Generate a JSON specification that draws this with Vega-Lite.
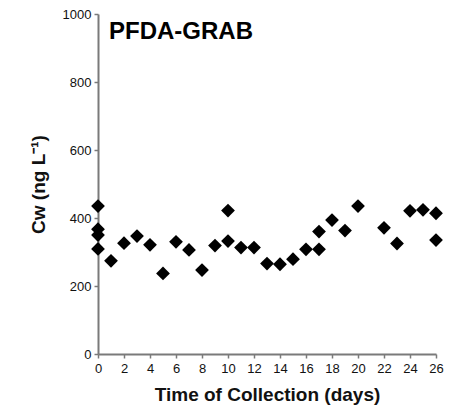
{
  "$schema": "https://vega.github.io/schema/vega-lite/v6.json",
  "width": 338,
  "height": 340,
  "autosize": "none",
  "padding": {"left": 98, "top": 14, "right": 23, "bottom": 55},
  "background": "white",
  "title": {
    "text": "PFDA-GRAB",
    "anchor": "start",
    "frame": "group",
    "orient": "top",
    "baseline": "alphabetic",
    "offset": -23,
    "dy": 32,
    "dx": 11,
    "fontSize": 24,
    "font": "Liberation Sans",
    "fontWeight": "bold",
    "color": "#000000"
  },
  "config": {
    "view": {"stroke": null},
    "axis": {
      "grid": false,
      "domainColor": "#7a7a7a",
      "domainWidth": 2,
      "tickColor": "#7a7a7a",
      "tickWidth": 1.5,
      "tickSize": 4,
      "labelFont": "Liberation Sans",
      "labelFontSize": 13,
      "labelColor": "#111111",
      "titleFont": "Liberation Sans",
      "titleFontWeight": "bold",
      "titleColor": "#111111"
    }
  },
  "data": {
    "values": [
      {"day": 0, "cw": 435},
      {"day": 0, "cw": 367},
      {"day": 0, "cw": 350},
      {"day": 0, "cw": 309},
      {"day": 1, "cw": 274},
      {"day": 2, "cw": 326},
      {"day": 3, "cw": 347},
      {"day": 4, "cw": 321},
      {"day": 5, "cw": 237},
      {"day": 6, "cw": 330},
      {"day": 7, "cw": 306},
      {"day": 8, "cw": 247},
      {"day": 9, "cw": 319},
      {"day": 10, "cw": 422},
      {"day": 10, "cw": 332},
      {"day": 11, "cw": 313},
      {"day": 12, "cw": 313},
      {"day": 13, "cw": 266},
      {"day": 14, "cw": 264},
      {"day": 15, "cw": 279},
      {"day": 16, "cw": 308},
      {"day": 17, "cw": 308},
      {"day": 17, "cw": 360},
      {"day": 18, "cw": 394},
      {"day": 19, "cw": 363},
      {"day": 20, "cw": 435},
      {"day": 22, "cw": 371},
      {"day": 23, "cw": 325},
      {"day": 24, "cw": 421},
      {"day": 25, "cw": 424},
      {"day": 26, "cw": 414},
      {"day": 26, "cw": 335}
    ]
  },
  "mark": {"type": "point", "shape": "diamond", "filled": true, "color": "#000000", "opacity": 1, "size": 190, "clip": false},
  "encoding": {
    "x": {
      "field": "day",
      "type": "quantitative",
      "scale": {"domain": [0, 26], "nice": false, "zero": true},
      "axis": {
        "title": "Time of Collection (days)",
        "titleFontSize": 19,
        "titlePadding": 10,
        "labelPadding": 4,
        "values": [0, 2, 4, 6, 8, 10, 12, 14, 16, 18, 20, 22, 24, 26],
        "labelFlush": false,
        "labelOverlap": false
      }
    },
    "y": {
      "field": "cw",
      "type": "quantitative",
      "scale": {"domain": [0, 1000], "nice": false},
      "axis": {
        "title": "Cw (ng L⁻¹)",
        "titleFontSize": 19,
        "titlePadding": 14,
        "labelPadding": 3,
        "format": "d",
        "values": [0, 200, 400, 600, 800, 1000],
        "labelFlush": false,
        "labelOverlap": false
      }
    }
  }
}
